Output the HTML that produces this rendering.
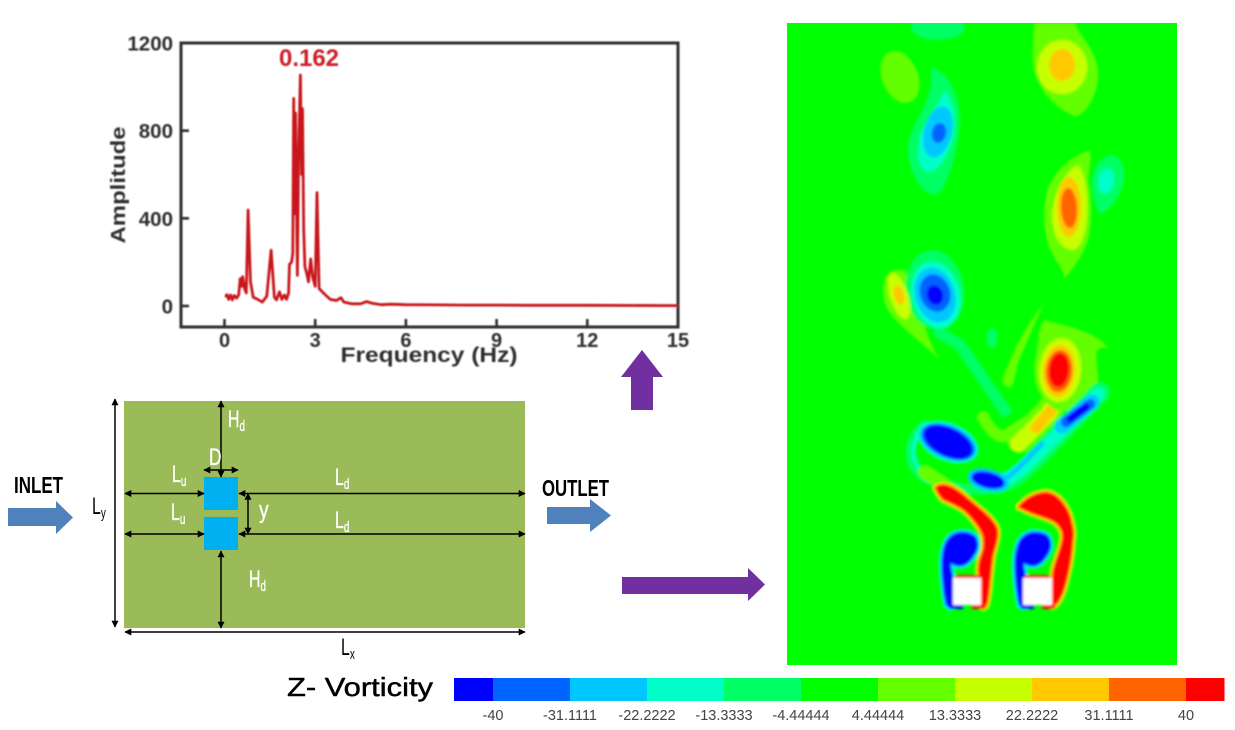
<!DOCTYPE html>
<html lang="en">
<head>
<meta charset="utf-8">
<title>Z-vorticity wake of side-by-side cylinders</title>
<style>
html,body{margin:0;padding:0;background:#fff;width:1235px;height:730px;overflow:hidden}
svg{display:block;font-family:"Liberation Sans",sans-serif}
</style>
</head>
<body>
<svg id="root" width="1235" height="730" viewBox="0 0 1235 730" xmlns="http://www.w3.org/2000/svg">
<defs>
<filter id="soft" x="-5%" y="-5%" width="110%" height="110%"><feGaussianBlur stdDeviation="1.4"/></filter>
<filter id="chartSoft" x="-5%" y="-5%" width="110%" height="110%"><feGaussianBlur stdDeviation="0.7"/></filter>
<clipPath id="fieldClip"><rect x="787" y="23" width="390" height="642"/></clipPath>
<marker id="ah" viewBox="0 0 10 10" refX="9" refY="5" markerWidth="7" markerHeight="7" markerUnits="userSpaceOnUse" orient="auto-start-reverse"><path d="M0,0L10,5L0,10Z" fill="#000"/></marker>
<path id="redLeft" d="M935,488C938,484 942,484 947,485C955,487 963,494 970,500C982,510 998,522 998,532C998,542 994,550 993,557C991,570 990,590 988,600C987,606 985,608 983,608L980,603L979,578L978,570C978,560 983,552 983,547C984,540 983,535 980,530C975,522 970,516 963,510C955,505 950,503 943,500C940,497 937,492 935,488Z"/>
<path id="redRight" d="M1018,507C1025,498 1036,492 1047,492C1060,494 1070,510 1072,523C1074,530 1074,535 1073,540C1072,560 1068,575 1065,587C1062,597 1058,604 1053,607L1052,603L1052,578L1053,570C1054,565 1056,560 1057,557C1060,548 1063,540 1062,533C1060,526 1055,522 1050,520C1040,516 1028,513 1018,507Z"/>
<path id="blueWake" d="M946,605C943,590 941,570 942,557C943,548 945,543 947,540C951,534 957,532 962,532C970,532 976,535 977,540C979,546 977,552 973,557C970,562 965,566 960,566C957,566 953,565 951,563C950,566 952,572 953,577L953,607L950,608Z"/>
</defs>

<!-- FFT chart -->
<g id="chart" filter="url(#chartSoft)"></g>

<!-- Domain schematic -->
<g>
<rect x="124" y="401" width="401" height="227" fill="#9bbb59"/>
<rect x="204" y="477" width="34" height="33" fill="#00b0f0"/>
<rect x="204" y="517" width="34" height="33" fill="#00b0f0"/>
<g stroke="#000" stroke-width="1.5" fill="none">
<line x1="115" y1="399" x2="115" y2="627" marker-start="url(#ah)" marker-end="url(#ah)"/>
<line x1="125" y1="632" x2="525" y2="632" marker-start="url(#ah)" marker-end="url(#ah)"/>
<line x1="221" y1="401" x2="221" y2="477" marker-start="url(#ah)" marker-end="url(#ah)"/>
<line x1="221" y1="551" x2="221" y2="628" marker-start="url(#ah)" marker-end="url(#ah)"/>
<line x1="204" y1="470" x2="238" y2="470" marker-start="url(#ah)" marker-end="url(#ah)"/>
<line x1="125" y1="493.5" x2="204" y2="493.5" marker-start="url(#ah)" marker-end="url(#ah)"/>
<line x1="125" y1="534" x2="204" y2="534" marker-start="url(#ah)" marker-end="url(#ah)"/>
<line x1="239" y1="493.5" x2="525" y2="493.5" marker-start="url(#ah)" marker-end="url(#ah)"/>
<line x1="239" y1="534" x2="525" y2="534" marker-start="url(#ah)" marker-end="url(#ah)"/>
<line x1="248" y1="493.5" x2="248" y2="534" marker-start="url(#ah)" marker-end="url(#ah)"/>
</g>
<g fill="#fff" stroke="#fff" stroke-width=".35" font-size="24">
<text transform="translate(228,427) scale(.66,1)">H<tspan font-size="15" dy="4">d</tspan></text>
<text transform="translate(209,465) scale(.72,1)">D</text>
<text transform="translate(172,482) scale(.66,1)">L<tspan font-size="15" dy="4">u</tspan></text>
<text transform="translate(171,520) scale(.66,1)">L<tspan font-size="15" dy="4">u</tspan></text>
<text transform="translate(259,518) scale(.8,1)">y</text>
<text transform="translate(249,587) scale(.66,1)">H<tspan font-size="15" dy="4">d</tspan></text>
<text transform="translate(335,485) scale(.66,1)">L<tspan font-size="15" dy="4">d</tspan></text>
<text transform="translate(335,528) scale(.66,1)">L<tspan font-size="15" dy="4">d</tspan></text>
</g>
<g fill="#000" font-size="24">
<text transform="translate(92,514) scale(.66,1)">L<tspan font-size="15" dy="4">y</tspan></text>
<text transform="translate(341,655) scale(.66,1)">L<tspan font-size="15" dy="4">x</tspan></text>
<text x="14" y="493" font-size="23" font-weight="bold" textLength="49" lengthAdjust="spacingAndGlyphs">INLET</text>
<text x="542" y="496" font-size="23" font-weight="bold" textLength="67" lengthAdjust="spacingAndGlyphs">OUTLET</text>
</g>
<path d="M8,508H56V501L73,517.5L56,534V526H8Z" fill="#4f81bd"/>
<path d="M547,507H590V499L611,515.5L590,532V524H547Z" fill="#4f81bd"/>
</g>

<path d="M642,350L663,377H653V410H631V377H621Z" fill="#7030a0"/>
<path d="M622,577H748V568L765,584.5L748,601V594H622Z" fill="#7030a0"/>

<!-- Vorticity field -->
<rect x="787" y="23" width="390" height="642" fill="#00ff00"/>
<g clip-path="url(#fieldClip)">
<g filter="url(#soft)">
<ellipse cx="938" cy="27" rx="27" ry="13" fill="#00ff64"/>
<ellipse cx="900" cy="77" rx="18" ry="27" transform="rotate(-22 900 77)" fill="#64ff00"/>

<g>
<path d="M1034,23H1075C1080,38 1098,50 1098,75C1098,95 1085,116 1075,116C1062,112 1040,95 1034,70C1031,55 1034,40 1034,23Z" fill="#64ff00"/>
<ellipse cx="1062" cy="67" rx="25" ry="27" fill="#c8ff00"/>
<ellipse cx="1062" cy="65" rx="13" ry="16" fill="#ffc800"/>
</g>

<g>
<path d="M931,67C945,72 960,88 960,122C958,155 945,195 934,195C920,193 908,170 908,148C910,120 935,105 931,67Z" fill="#00ff64"/>
<path d="M944,91C953,100 955,115 954,128C952,150 940,172 928,172C917,170 917,150 920,135C926,120 936,110 944,91Z" fill="#00ffc8"/>
<ellipse cx="938" cy="132" rx="14" ry="26" transform="rotate(14 938 132)" fill="#00c8ff"/>
<ellipse cx="939" cy="133" rx="7" ry="10" transform="rotate(12 939 133)" fill="#0064ff"/>
</g>

<g>
<path d="M1110,155C1122,155 1126,170 1124,182C1120,198 1108,212 1100,214C1094,205 1091,190 1092,178C1094,165 1102,157 1110,155Z" fill="#00ff64"/>
<ellipse cx="1106" cy="181" rx="8" ry="13" transform="rotate(10 1106 181)" fill="#00ffc8"/>
</g>

<g>
<path d="M1089,151C1092,153 1090,165 1088,180C1092,200 1092,225 1088,240C1083,255 1072,270 1064,279C1064,268 1056,262 1053,255C1044,240 1042,215 1046,195C1052,172 1072,155 1089,151Z" fill="#64ff00"/>
<path d="M1078,165C1086,175 1088,195 1087,215C1086,235 1080,250 1072,250C1060,248 1052,235 1052,215C1053,195 1064,172 1078,165Z" fill="#c8ff00"/>
<ellipse cx="1069" cy="207" rx="12" ry="30" fill="#ffc800"/>
<ellipse cx="1069" cy="208" rx="8" ry="20" transform="rotate(-3 1069 208)" fill="#ff6400"/>
</g>

<path d="M935,330L960,345L1008,415" fill="none" stroke="#00ff64" stroke-width="12" stroke-linejoin="round"/>
<path d="M895,270C884,272 882,285 884,300C888,320 915,335 940,360C925,340 920,300 905,270Z" fill="#64ff00"/>
<path d="M1043,305C1030,320 1015,345 1004,375C1000,382 1005,388 1010,387C1015,385 1015,370 1020,358C1028,340 1036,320 1043,305Z" fill="#64ff00"/>

<g>
<ellipse cx="935" cy="290" rx="29" ry="40" transform="rotate(-8 935 290)" fill="#00ff64"/>
<ellipse cx="936" cy="295" rx="24" ry="34" transform="rotate(-14 936 295)" fill="#00ffc8"/>
<ellipse cx="935" cy="295" rx="20" ry="28" transform="rotate(-16 935 295)" fill="#00c8ff"/>
<ellipse cx="935" cy="293" rx="15" ry="19" transform="rotate(-18 935 293)" fill="#0064ff"/>
<ellipse cx="935" cy="295" rx="8" ry="10" transform="rotate(-18 935 295)" fill="#0000ff"/>
</g>
<g>
<ellipse cx="899" cy="296" rx="9" ry="24" transform="rotate(-18 899 296)" fill="#c8ff00"/>
<ellipse cx="899" cy="295" rx="5" ry="10" transform="rotate(-14 899 295)" fill="#ffc800"/>
</g>
<ellipse cx="992" cy="338" rx="5.5" ry="10" fill="#00ff64"/>

<!-- shear layers -->
<g fill="none" stroke-linecap="round" stroke-linejoin="round">
<path d="M983,417C990,430 998,438 1005,436L1027,422" stroke="#64ff00" stroke-width="12"/>
<path d="M1020,440L1048,412L1066,385" stroke="#64ff00" stroke-width="26"/>
<path d="M1018,444L1048,414L1062,392" stroke="#c8ff00" stroke-width="16"/>
<path d="M1036,428L1060,400" stroke="#ffc800" stroke-width="11"/>
</g>
<g>
<path d="M1045,320C1060,325 1095,330 1108,348C1090,345 1098,360 1098,380C1090,405 1070,415 1055,410C1040,400 1030,380 1036,355C1040,340 1036,330 1045,320Z" fill="#64ff00"/>
<ellipse cx="1060" cy="370" rx="21" ry="32" transform="rotate(5 1060 370)" fill="#c8ff00"/>
<ellipse cx="1059" cy="371" rx="16" ry="26" transform="rotate(5 1059 371)" fill="#ffc800"/>
<ellipse cx="1059" cy="371" rx="13" ry="21" transform="rotate(5 1059 371)" fill="#ff6400"/>
<ellipse cx="1059" cy="370" rx="10" ry="17" transform="rotate(5 1059 370)" fill="#ff0000"/>
</g>
<g fill="none" stroke-linecap="round" stroke-linejoin="round">
<path d="M925,425C905,440 905,470 930,480C950,486 965,490 985,490" stroke="#00ff64" stroke-width="10"/>
<path d="M925,425C909,440 909,468 932,478" stroke="#00ffc8" stroke-width="4"/>
<path d="M985,482C1005,490 1022,472 1047,447L1100,392" stroke="#00ff64" stroke-width="20"/>
<path d="M985,482C1005,488 1021,470 1046,445L1098,394" stroke="#00ffc8" stroke-width="13"/>
<path d="M985,482C1005,486 1018,468 1042,444" stroke="#00c8ff" stroke-width="5"/>
<path d="M1062,426L1092,402" stroke="#00c8ff" stroke-width="15"/>
<path d="M1066,422L1090,404" stroke="#0064ff" stroke-width="10"/>
<path d="M1070,419L1086,407" stroke="#0000ff" stroke-width="7"/>
</g>
<g>
<ellipse cx="948" cy="442" rx="32" ry="19" transform="rotate(22 948 442)" fill="#00ffc8"/>
<ellipse cx="948" cy="442" rx="30" ry="17" transform="rotate(22 948 442)" fill="#00c8ff"/>
<ellipse cx="948" cy="442" rx="28" ry="15" transform="rotate(24 948 442)" fill="#0064ff"/>
<ellipse cx="948" cy="442" rx="26" ry="14" transform="rotate(26 948 442)" fill="#0000ff"/>
</g>
<g>
<ellipse cx="988" cy="480" rx="21" ry="11" transform="rotate(14 988 480)" fill="#00c8ff"/>
<ellipse cx="988" cy="480" rx="17" ry="8" transform="rotate(14 988 480)" fill="#0000ff"/>
</g>

<!-- near wake: positive layers -->
<path d="M925,472L945,485" stroke="#64ff00" stroke-width="14" stroke-linecap="round" fill="none"/>
<g stroke-linejoin="round">
<use href="#redLeft" fill="#64ff00" stroke="#64ff00" stroke-width="7"/>
<use href="#redLeft" fill="#ffc800" stroke="#ffc800" stroke-width="4"/>
<use href="#redLeft" fill="#ff0000"/>
</g>
<g stroke-linejoin="round">
<use href="#redRight" fill="#64ff00" stroke="#64ff00" stroke-width="7"/>
<use href="#redRight" fill="#ffc800" stroke="#ffc800" stroke-width="4"/>
<use href="#redRight" fill="#ff0000"/>
</g>

<!-- near wake: negative layers -->
<g stroke-linejoin="round">
<use href="#blueWake" fill="#00ffc8" stroke="#00ffc8" stroke-width="6"/>
<use href="#blueWake" fill="#00c8ff" stroke="#00c8ff" stroke-width="3"/>
<use href="#blueWake" fill="#0000ff"/>
</g>
<g stroke-linejoin="round" transform="translate(73,0)">
<use href="#blueWake" fill="#00ffc8" stroke="#00ffc8" stroke-width="6"/>
<use href="#blueWake" fill="#00c8ff" stroke="#00c8ff" stroke-width="3"/>
<use href="#blueWake" fill="#0000ff"/>
</g>

<rect x="955" y="575" width="25" height="3" fill="#ff2000"/>
<rect x="1025" y="575" width="25" height="3" fill="#ff2000"/>
<rect x="949" y="604" width="14" height="5" fill="#0000ff"/>
<rect x="972" y="604" width="13" height="5" fill="#ff0000"/>
<rect x="1021" y="604" width="13" height="5" fill="#0000ff"/>
<rect x="1042" y="604" width="13" height="5" fill="#ff0000"/>
<rect x="953" y="578" width="28" height="27" fill="#fff"/>
<rect x="1023" y="578" width="29" height="27" fill="#fff"/>
</g>
</g>

<!-- Colour bar -->
<g>
<text x="287" y="696" font-size="26" stroke="#000" stroke-width=".45" textLength="146" lengthAdjust="spacingAndGlyphs" fill="#000">Z- Vorticity</text>
<g id="colorbarSegments"></g>
<g id="colorbarLabels" font-size="14.5" fill="#444" text-anchor="middle"></g>
</g>

<script>
/* FFT spectrum data */
var frequencies = [0.03,0.08,0.14,0.2,0.26,0.32,0.4,0.47,0.52,0.56,0.6,0.66,0.72,0.78,0.86,0.95,1.1,1.25,1.4,1.54,1.65,1.72,1.82,1.9,1.98,2.05,2.12,2.15,2.22,2.26,2.29,2.32,2.35,2.38,2.41,2.45,2.51,2.55,2.58,2.62,2.66,2.72,2.78,2.85,2.92,3.0,3.06,3.13,3.3,3.5,3.7,3.85,3.95,4.2,4.5,4.7,4.9,5.2,5.5,6,7,8,9,10,12,15];
var amplitudes = [40,52,30,50,28,48,36,50,125,90,134,80,60,438,110,40,30,18,45,255,40,28,65,30,50,30,60,190,200,240,947,420,880,500,140,700,1054,600,900,350,180,150,110,215,130,90,517,80,55,30,25,38,18,10,10,20,12,6,8,6,5,4,4,3,3,2];
var xTicks = [0,3,6,9,12,15];
var yTicks = [0,400,800,1200];
var peakLabel = "0.162";
/* Colour bar data */
var levelLabels = ["-40","-31.1111","-22.2222","-13.3333","-4.44444","4.44444","13.3333","22.2222","31.1111","40"];
var levelColors = ["#0000ff","#0064ff","#00c8ff","#00ffc8","#00ff64","#00ff00","#64ff00","#c8ff00","#ffc800","#ff6400","#ff0000"];

var NS = "http://www.w3.org/2000/svg";
function make(tag, parent, attrs, text) {
  var el = document.createElementNS(NS, tag);
  for (var k in attrs) el.setAttribute(k, attrs[k]);
  if (text !== undefined) el.textContent = text;
  parent.appendChild(el);
  return el;
}
function xScale(f) { return 224.5 + f * (678 - 224.5) / 15; }
function yScale(a) { return 306 - a * (306 - 43) / 1200; }

var chart = document.getElementById("chart");
var INK = "#2e2e2e";

var frame = make("rect", chart, {x:181, y:43, width:497, height:284, fill:"none", stroke:INK, "stroke-width":3});



xTicks.forEach(function (t) {
  var tick = make("line", chart, {x1:xScale(t), x2:xScale(t), y1:327, y2:319, stroke:INK, "stroke-width":2.6});
  
  
  var label = make("text", chart, {x:xScale(t), y:347, "text-anchor":"middle", "font-size":20, "font-weight":"bold", fill:INK}, String(t));
  
  
});
yTicks.forEach(function (t) {
  var tick = make("line", chart, {x1:181, x2:189, y1:yScale(t), y2:yScale(t), stroke:INK, "stroke-width":2.6});
  
  
  var label = make("text", chart, {x:173, y:yScale(t) + 7.5, "text-anchor":"end", "font-size":20.5, "font-weight":"bold", fill:INK}, String(t));
  
  
});

var pts = frequencies.map(function (f, i) { return xScale(f).toFixed(1) + "," + yScale(amplitudes[i]).toFixed(1); }).join(" ");
var line = make("polyline", chart, {points:pts, fill:"none", stroke:"#c8141a", "stroke-width":2.8, "stroke-linejoin":"round"});



var peak = make("text", chart, {x:309, y:66, "text-anchor":"middle", "font-size":24, "font-weight":"bold", fill:"#cc1f28"}, peakLabel);



var xTitle = make("text", chart, {x:429, y:362, "text-anchor":"middle", "font-size":21, "font-weight":"bold", fill:INK, textLength:177, lengthAdjust:"spacingAndGlyphs"}, "Frequency (Hz)");



var yTitle = make("text", chart, {transform:"translate(125,185) rotate(-90)", "text-anchor":"middle", "font-size":20.5, "font-weight":"bold", fill:INK, textLength:117, lengthAdjust:"spacingAndGlyphs"}, "Amplitude");



/* Colour bar: each printed level sits on the boundary between two swatches */
function levelX(i) { return 493 + i * (1186 - 493) / 9; }
var segs = document.getElementById("colorbarSegments");
levelColors.forEach(function (c, i) {
  var left = i === 0 ? 454 : levelX(i - 1);
  var right = i === levelColors.length - 1 ? 1224 : levelX(i);
  var s = make("rect", segs, {x:left, y:678, width:right - left + 0.5, height:23, fill:c});
  
  
});
var labs = document.getElementById("colorbarLabels");
levelLabels.forEach(function (t, i) {
  var l = make("text", labs, {x:levelX(i), y:720}, t);
  
  
});
</script>
</svg>
</body>
</html>
